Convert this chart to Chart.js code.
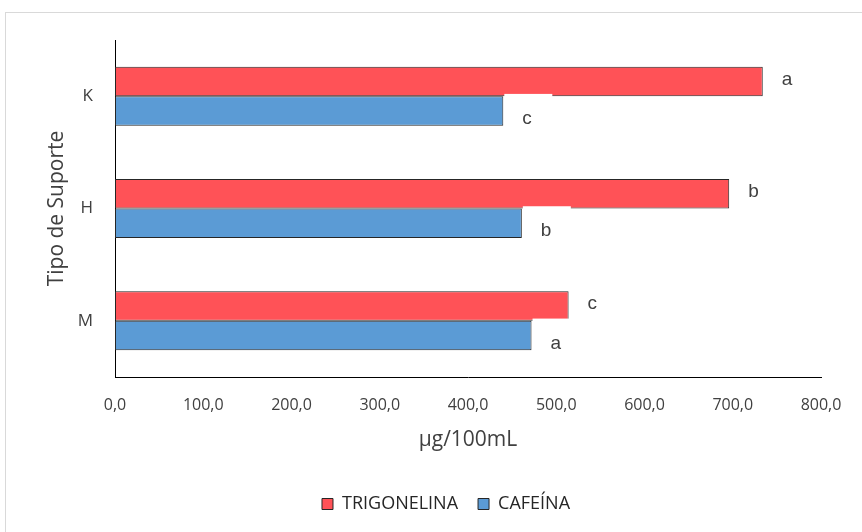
<!DOCTYPE html>
<html>
<head>
<meta charset="utf-8">
<script src="https://cdn.jsdelivr.net/npm/chart.js@4.4.0/dist/chart.umd.min.js"></script>
<style>
    body { margin: 0; background: #fff; }
    #frame { position: absolute; left: 5px; top: 12px; width: 900px; height: 600px; border: 1px solid #d9d9d9; }
    #wrap { position: absolute; left: 0; top: 0; width: 862px; height: 532px; }
</style>
</head>
<body>
<div id="frame"></div>
<div id="wrap"><canvas id="chart"></canvas></div>
<script>
// Chart data
const categories = ['K', 'H', 'M'];
const trigonelina = [734, 696, 514];
const cafeina = [440, 461, 472];
const trigLetters = ['a', 'b', 'c'];
const cafLetters = ['c', 'b', 'a'];
const xTickLabels = ['0,0', '100,0', '200,0', '300,0', '400,0', '500,0', '600,0', '700,0', '800,0'];

const BOTTOM_PAD = 9;

// Letters to the right of each bar, on a white box
const letterPlugin = {
    id: 'letters',
    afterDatasetsDraw(chart) {
        const ctx = chart.ctx;
        const sets = [trigLetters, cafLetters];
        const items = [];
        chart.data.datasets.forEach((ds, di) => {
            const meta = chart.getDatasetMeta(di);
            const dy = di === 0 ? -2 : 8;
            meta.data.forEach((bar, i) => {
                items.push({ x: bar.x, y: bar.y + dy, text: sets[di][i] });
            });
        });
        ctx.save();
        ctx.fillStyle = '#ffffff';
        items.forEach(it => ctx.fillRect(it.x + 1, it.y - 25, 48, 50));
        ctx.fillStyle = '#404040';
        ctx.font = '19px "Liberation Sans"';
        ctx.textAlign = 'left';
        ctx.textBaseline = 'middle';
        items.forEach(it => ctx.fillText(it.text, it.x + 19, it.y));
        ctx.restore();
    }
};

const ctx = document.getElementById('chart');

new Chart(ctx, {
    type: 'bar',
    data: {
        labels: categories,
        datasets: [{
            label: 'TRIGONELINA',
            data: trigonelina,
            backgroundColor: '#ff5257',
            borderColor: '#262626',
            borderWidth: 1,
            borderSkipped: false
        }, {
            label: 'CAFEÍNA',
            data: cafeina,
            backgroundColor: '#5b9bd5',
            borderColor: '#262626',
            borderWidth: 1,
            borderSkipped: false
        }]
    },
    options: {
        indexAxis: 'y',
        responsive: true,
        maintainAspectRatio: false,
        animation: false,
        categoryPercentage: 0.525,
        barPercentage: 1,
        layout: {
            padding: { top: 40, right: 0, left: 30, bottom: BOTTOM_PAD }
        },
        plugins: {
            tooltip: { enabled: false },
            legend: {
                position: 'bottom',
                labels: {
                    boxWidth: 11,
                    boxHeight: 11,
                    padding: 20,
                    color: '#262626',
                    font: { family: 'Open Sans', size: 18 }
                }
            }
        },
        scales: {
            x: {
                min: 0,
                max: 800,
                grid: { display: false, drawTicks: false },
                border: { display: true, color: '#000000', width: 1 },
                ticks: {
                    stepSize: 100,
                    padding: 19,
                    maxRotation: 0,
                    color: '#404040',
                    font: { family: 'Open Sans', style: 'condensed', size: 16 },
                    callback: (v, i) => xTickLabels[i]
                },
                title: {
                    display: true,
                    text: 'µg/100mL',
                    color: '#404040',
                    font: { family: 'Open Sans', size: 21 },
                    padding: { top: 0, bottom: 22 }
                },
                afterFit(scale) {
                    scale.height = scale.chart.height - BOTTOM_PAD - scale.chart.legend.height - 377;
                }
            },
            y: {
                grid: { display: false, drawTicks: false },
                border: { display: true, color: '#000000', width: 1 },
                ticks: {
                    padding: 22,
                    color: '#404040',
                    font: { family: 'Open Sans', size: 17 }
                },
                title: {
                    display: true,
                    text: 'Tipo de Suporte',
                    color: '#404040',
                    font: { family: 'Open Sans', size: 21 },
                    padding: { top: 14, bottom: 0 }
                },
                afterFit(scale) { scale.width = 85; }
            },
            // empty axis on the right, keeps the plot narrower than the legend row
            yRight: {
                axis: 'y',
                position: 'right',
                grid: { display: false },
                border: { display: false },
                ticks: { display: false },
                afterFit(scale) { scale.width = 41; }
            }
        }
    },
    plugins: [letterPlugin]
});
</script>
</body>
</html>
